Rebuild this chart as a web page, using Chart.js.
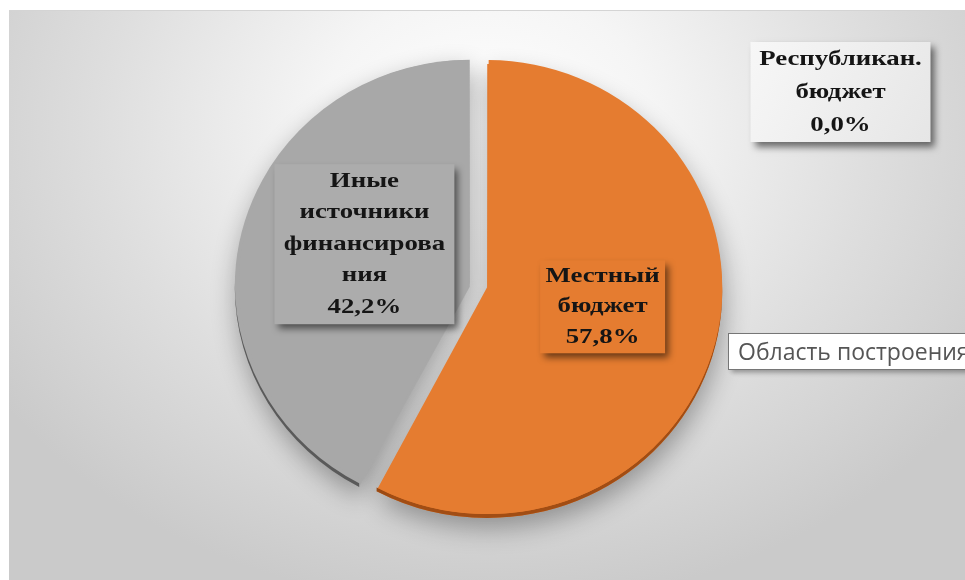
<!DOCTYPE html>
<html><head><meta charset="utf-8">
<script src="https://cdn.jsdelivr.net/npm/chart.js@4.4.1/dist/chart.umd.min.js"></script>
<style>
html,body{margin:0;padding:0;background:#fff;}
#wrap{position:relative;width:965px;height:580px;overflow:hidden;}
#bg{position:absolute;left:9px;top:10px;right:0;bottom:0;
 background:radial-gradient(ellipse 62% 85% at 50% 20%, #ffffff 0%, #f5f5f5 28%, #dedede 65%, #cacaca 100%);
 border-top:1px solid #d4d4d4;}
canvas{position:absolute;left:0;top:0;}
</style></head><body>
<div id="wrap"><div id="bg"></div><canvas id="c" width="965" height="580"></canvas></div>
<script>
// ---- data ----
const categories = [["Республикан.", "бюджет"], ["Местный", "бюджет"], ["Иные", "источники", "финансирова", "ния"]];
const shares = [0.0, 57.8, 42.2];
const sliceColors = ['#d9d9d9', '#e57c30', '#a8a8a8'];
const rimColors = ['#999999', '#a14d14', '#5a5a5a'];
const boxColors = ['#f1f1f1', '#e57c30', '#acacac'];

// label box layout (relative to each slice's centre point)
const labelLayout = [
  {dx: 362, dy: -80, w: 180, h: 100, lh: 33},
  {dx: -3,  dy: -10, w: 125, h: 93,  lh: 30.5},
  {dx: 13,  dy: -9,  w: 180, h: 160, lh: 31.5}
];
const TILT = 0.966;     // vertical squash of the pie (perspective)
const DEPTH = 4;        // visible rim thickness
const TEXT_STRETCH = 1.22;

const fmt = v => v.toFixed(1).replace('.', ',') + '%';
const norm = a => { const T = Math.PI * 2; a = a % T; return a < 0 ? a + T : a; };

const pie3d = {
  id: 'pie3d',
  beforeDatasetsDraw(chart) {
    const ctx = chart.ctx;
    const meta = chart.getDatasetMeta(0);
    const cy0 = (chart.chartArea.top + chart.chartArea.bottom) / 2;
    ctx.save();
    ctx.translate(0, cy0); ctx.scale(1, TILT); ctx.translate(0, -cy0);
    meta.data.forEach((arc, i) => {
      const p = arc.getProps(['x','y','startAngle','endAngle','outerRadius']);
      if (p.endAngle - p.startAngle <= 0) return;
      const off = (arc.options.offset || 0) / 4;
      const mid = (p.startAngle + p.endAngle) / 2;
      const cx = p.x + Math.cos(mid) * off, cy = p.y + Math.sin(mid) * off;
      const r = p.outerRadius + off;
      // soft drop shadow of the slice
      ctx.save();
      ctx.shadowColor = 'rgba(0,0,0,0.33)';
      ctx.shadowBlur = 26;
      ctx.shadowOffsetX = 2;
      ctx.shadowOffsetY = 10;
      ctx.fillStyle = sliceColors[i];
      ctx.beginPath();
      ctx.moveTo(cx, cy + DEPTH);
      ctx.arc(cx, cy + DEPTH, r, p.startAngle, p.endAngle);
      ctx.closePath();
      ctx.fill();
      ctx.restore();
      // darker side band along the lower outer edge only
      let s = norm(p.startAngle), e = s + (p.endAngle - p.startAngle);
      const ranges = [[0, Math.PI], [Math.PI * 2, Math.PI * 3]];
      ranges.forEach(([a, b]) => {
        const s2 = Math.max(s, a), e2 = Math.min(e, b);
        if (e2 <= s2) return;
        ctx.save();
        ctx.fillStyle = rimColors[i];
        ctx.beginPath();
        ctx.arc(cx, cy + DEPTH, r, s2, e2);
        ctx.arc(cx, cy, r, e2, s2, true);
        ctx.closePath();
        ctx.fill();
        ctx.restore();
      });
    });
  },
  afterDatasetsDraw(chart) {
    chart.ctx.restore();
  },
  afterDraw(chart) {
    const ctx = chart.ctx;
    const meta = chart.getDatasetMeta(0);
    meta.data.forEach((arc, i) => {
      const c = arc.tooltipPosition();
      const L = labelLayout[i];
      const x = c.x + L.dx, y = c.y + L.dy;
      const bx = x - L.w / 2, by = y - L.h / 2;
      ctx.save();
      ctx.shadowColor = 'rgba(0,0,0,0.55)';
      ctx.shadowBlur = 7;
      ctx.shadowOffsetX = 4;
      ctx.shadowOffsetY = 5;
      if (i === 0) {
        const g = ctx.createLinearGradient(bx, by, bx + L.w, by + L.h);
        g.addColorStop(0, '#f7f7f7'); g.addColorStop(1, '#e6e6e6');
        ctx.fillStyle = g;
      } else ctx.fillStyle = boxColors[i];
      ctx.fillRect(bx, by, L.w, L.h);
      ctx.restore();
      const lines = categories[i].concat([fmt(shares[i])]);
      ctx.save();
      ctx.fillStyle = '#151515';
      ctx.font = 'bold 22px "Liberation Serif", "DejaVu Serif", serif';
      ctx.textAlign = 'center';
      ctx.textBaseline = 'middle';
      const top = y - (lines.length - 1) * L.lh / 2;
      lines.forEach((t, k) => {
        ctx.save();
        ctx.translate(x, top + k * L.lh);
        ctx.scale(TEXT_STRETCH, 1);
        ctx.fillText(t, 0, 0);
        ctx.restore();
      });
      ctx.restore();
    });
    // Excel hover tip
    ctx.save();
    ctx.shadowColor = 'rgba(0,0,0,0.35)';
    ctx.shadowBlur = 5; ctx.shadowOffsetX = 2; ctx.shadowOffsetY = 3;
    ctx.fillStyle = '#ffffff';
    ctx.fillRect(728.5, 333.5, 260, 36);
    ctx.restore();
    ctx.save();
    ctx.strokeStyle = '#767676'; ctx.lineWidth = 1;
    ctx.strokeRect(728.5, 333.5, 260, 36);
    ctx.fillStyle = '#555555';
    ctx.font = '23px "Open Sans", "Noto Sans", sans-serif';
    ctx.textBaseline = 'middle';
    ctx.fillText('Область построения', 738, 353);
    ctx.restore();
  }
};

new Chart(document.getElementById('c'), {
  type: 'pie',
  data: {
    labels: categories.map(l => l.join(' ')),
    datasets: [{
      data: shares,
      backgroundColor: sliceColors,
      borderWidth: 0,
      offset: [0, 36, 36]
    }]
  },
  options: {
    responsive: false,
    animation: false,
    events: [],
    radius: 226,
    layout: {padding: {left: 0, right: 8, top: 0, bottom: 10}},
    plugins: {legend: {display: false}, tooltip: {enabled: false}, title: {display: false}}
  },
  plugins: [pie3d]
});
</script>
</body></html>
